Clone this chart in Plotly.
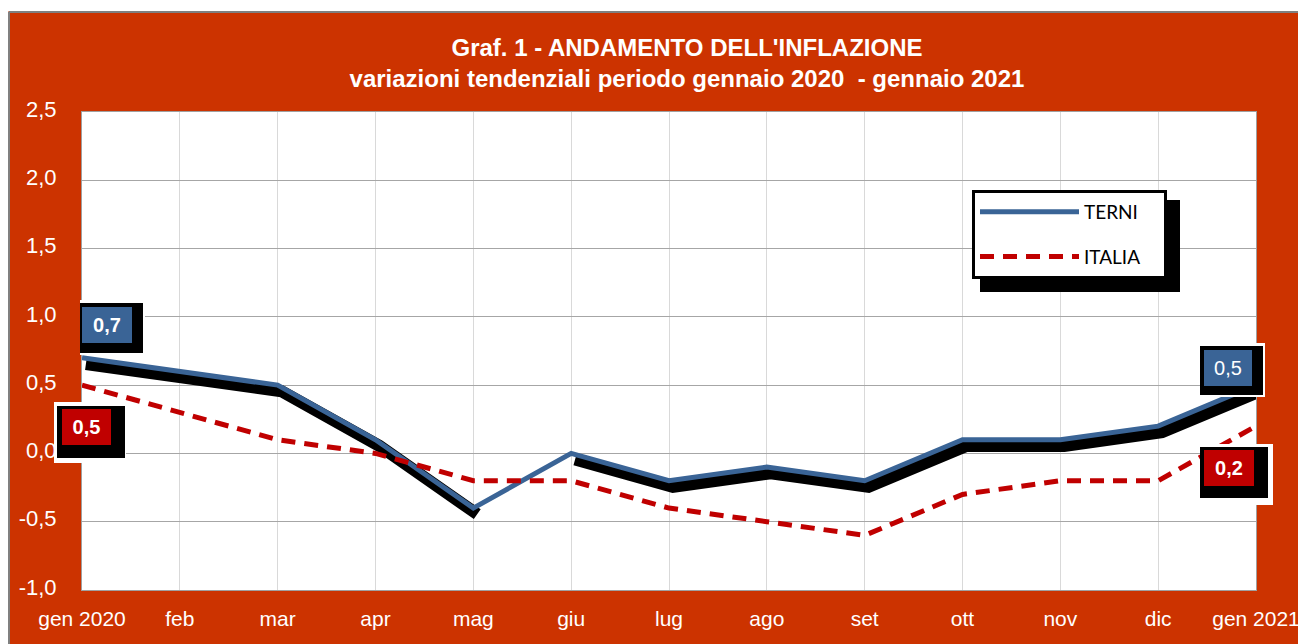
import plotly.graph_objects as go

months = ["gen 2020", "feb", "mar", "apr", "mag", "giu", "lug", "ago", "set", "ott", "nov", "dic", "gen 2021"]
terni = [0.7, 0.6, 0.5, 0.1, -0.4, 0.0, -0.2, -0.1, -0.2, 0.1, 0.1, 0.2, 0.5]
italia = [0.5, 0.3, 0.1, 0.0, -0.2, -0.2, -0.4, -0.5, -0.6, -0.3, -0.2, -0.2, 0.2]
y_ticks = [-1.0, -0.5, 0.0, 0.5, 1.0, 1.5, 2.0, 2.5]

ORANGE = "#CC3300"
BLUE = "#3A6496"
RED = "#C00000"


def fmt(v):
    return f"{v:.1f}".replace(".", ",")


xs = list(range(len(months)))

# shadow under TERNI line (no shadow on the mag -> giu segment, as in the original)
shadow_x, shadow_y = [], []
for i, v in enumerate(terni):
    shadow_x.append(i + 0.04)
    shadow_y.append(v - 0.045)
    if months[i] == "mag":
        shadow_x.append(None)
        shadow_y.append(None)

PAD = "\u00a0" * 4

fig = go.Figure()
fig.add_trace(go.Scatter(x=shadow_x, y=shadow_y, mode="lines",
                         line=dict(color="black", width=12),
                         showlegend=False, hoverinfo="skip"))
fig.add_trace(go.Scatter(x=xs, y=terni, mode="lines", name="TERNI" + PAD, legendgroup="a",
                         line=dict(color=BLUE, width=5)))
fig.add_trace(go.Scatter(x=xs, y=italia, mode="lines", name="ITALIA" + PAD, legendgroup="b",
                         line=dict(color=RED, width=5, dash="14px,9px")))

# label boxes: (series, index, [(w,h,xshift,yshift) white, black, colour], colour, bold)
labels = [
    (terni, 0, [(65, 55, 30.5, 30.3), (63, 50, 29.5, 29.8), (50, 36, 25, 32.8)], BLUE, True),
    (italia, 0, [(72, 61, 8, -47.4), (68, 52, 9, -46.9), (49, 36, 4.5, -41.9)], RED, True),
    (terni, 12, [(65, 54, -23.5, 15.1), (63, 49, -24.5, 14.6), (48, 36, -28, 17.1)], BLUE, False),
    (italia, 12, [(73, 61, -19.5, -48.4), (68, 51, -22, -46.4), (50, 36, -27, -41.9)], RED, True),
]
annotations = []
for series, i, boxes, col, bold in labels:
    txt = fmt(series[i])
    if bold:
        txt = "<b>" + txt + "</b>"
    for (w, h, dx, dy), bg in zip(boxes, ["white", "black", col]):
        annotations.append(dict(
            x=i, y=series[i], xref="x", yref="y",
            text=txt if bg == col else "\u00a0", showarrow=False,
            xanchor="center", yanchor="middle", xshift=dx, yshift=dy,
            width=w, height=h, bgcolor=bg, borderpad=0, borderwidth=0,
            font=dict(family="Liberation Sans, Arial", size=20, color="white")))

W, H = 1298, 636
L, R, T, B = 74, 50, 104, 54
PW, PH = W - L - R, H - T - B


def px(fx):
    return (fx - L) / PW


def py(fy):
    return (H - B - fy) / PH


fig.update_layout(
    width=W, height=H,
    margin=dict(l=L, r=R, t=T, b=B, autoexpand=False),
    paper_bgcolor=ORANGE, plot_bgcolor="white",
    separators=",.",
    title=dict(text="<b>Graf. 1 - ANDAMENTO DELL'INFLAZIONE<br>variazioni tendenziali periodo gennaio 2020  - gennaio 2021</b>",
               x=679 / W, xref="container", xanchor="center",
               y=1 - 48 / H, yref="container", yanchor="top",
               font=dict(family="Liberation Sans, Arial", size=24, color="white")),
    xaxis=dict(range=[0, 12], tickmode="array", tickvals=xs, ticktext=months,
               automargin=False,
               showgrid=True, gridcolor="#D9D9D9", gridwidth=1,
               showline=True, linecolor="#A0A0A0", linewidth=1, mirror=True,
               ticks="outside", ticklen=10, tickcolor="rgba(0,0,0,0)",
               zeroline=False,
               tickfont=dict(family="Liberation Sans, Arial", size=21, color="white")),
    yaxis=dict(range=[-1, 2.5], tickmode="array", tickvals=y_ticks,
               ticktext=[fmt(v) for v in y_ticks], automargin=False,
               showgrid=True, gridcolor="#A6A6A6", gridwidth=1,
               showline=True, linecolor="#A0A0A0", linewidth=1, mirror=True,
               ticks="outside", ticklen=20, tickcolor="rgba(0,0,0,0)",
               zeroline=False, ticklabelshift=-3,
               tickfont=dict(family="Liberation Sans, Arial", size=22, color="white")),
    legend=dict(x=px(972 - 8), y=py(190 - 8), xanchor="left", yanchor="top",
                bgcolor="white", bordercolor="black", borderwidth=3,
                traceorder="grouped", tracegroupgap=17, itemwidth=99,
                font=dict(family="Lato, Carlito, sans-serif", size=19, color="black")),
    annotations=annotations,
    shapes=[
        # thin white strip on top and grey frame edges of the orange panel
        dict(type="rect", xref="paper", yref="paper", x0=-1, x1=2, y0=py(3.5), y1=2,
             fillcolor="white", line=dict(width=0), layer="above"),
        dict(type="line", xref="paper", yref="paper", x0=px(1), x1=2,
             y0=py(4), y1=py(4), line=dict(color="#808080", width=2)),
        dict(type="line", xref="paper", yref="paper", x0=px(1), x1=px(1),
             y0=-1, y1=py(4), line=dict(color="#808080", width=2)),
        # legend shadow
        dict(type="rect", xref="paper", yref="paper",
             x0=px(980 - 8), x1=px(1180 - 8),
             y0=py(292 - 8), y1=py(200 - 8),
             fillcolor="black", line=dict(width=0), layer="above"),
    ],
)

fig.write_html("out.html")
